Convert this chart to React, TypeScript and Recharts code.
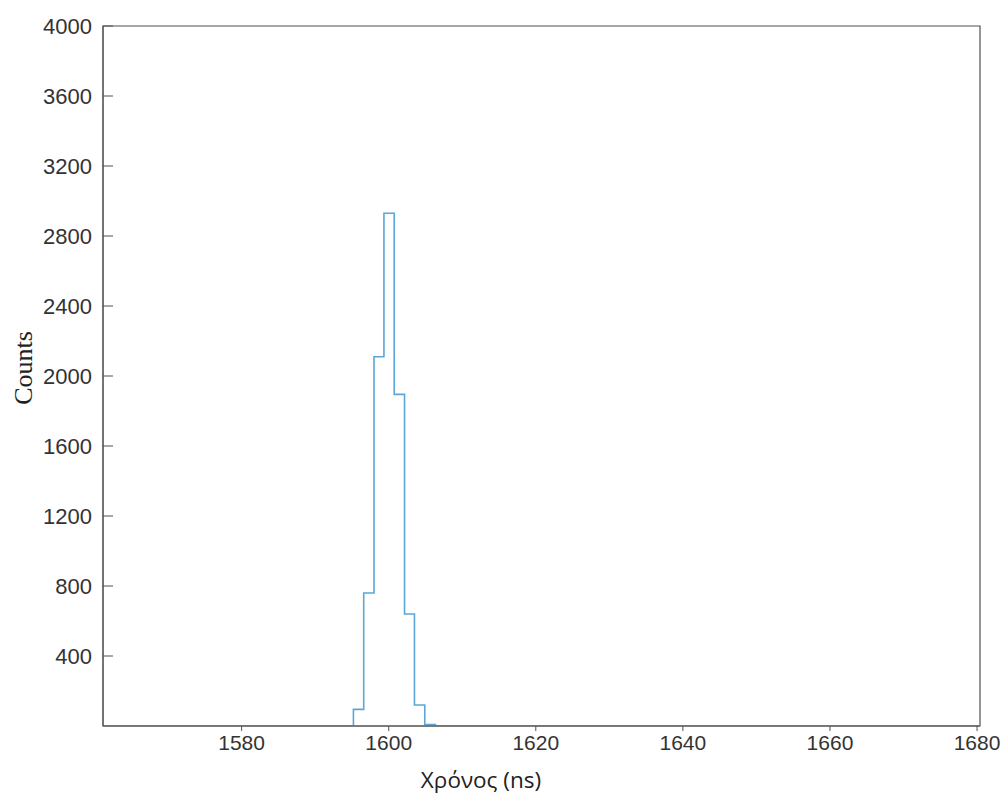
// @ts-nocheck
import { LineChart, Line, XAxis, YAxis, ReferenceArea, Label } from 'recharts'

// bin left edges (ns) and counts
const times = [1561.15, 1595.2, 1596.6, 1598.0, 1599.35, 1600.75, 1602.15, 1603.5, 1604.9, 1606.35, 1680.4]
const counts = [0, 95, 760, 2110, 2930, 1895, 640, 120, 8, 0, 0]

const xTicks = [1580, 1600, 1620, 1640, 1660, 1680]
const yTicks = [400, 800, 1200, 1600, 2000, 2400, 2800, 3200, 3600, 4000]

const xDomain = [1561.15, 1680.4]
const yDomain = [0, 4000]

const data = times.map((t, i) => ({ t, c: counts[i] }))

const axisColor = '#505050'
const textColor = '#333'

// y ticks point inward (into the plot)
const YTick = ({ x, y, payload }) => (
  <g>
    <line x1={x} x2={x + 10} y1={y} y2={y} stroke={axisColor} strokeWidth={1} />
    <text x={x - 11} y={y} textAnchor="end" dominantBaseline="central"
      fontFamily="Arial, 'Liberation Sans', sans-serif" fontSize={22} fill={textColor}>
      {payload.value}
    </text>
  </g>
)

export default function App() {
  return (
    <div style={{ position: 'absolute', left: 0, top: 0, background: '#fff' }}>
      <LineChart width={1005} height={796} data={data}
        margin={{ top: 26, right: 25, bottom: 0, left: 0 }}>
        <ReferenceArea x1={xDomain[0]} x2={xDomain[1]} y1={yDomain[0]} y2={yDomain[1]}
          fill="none" stroke={axisColor} strokeWidth={1.2} />
        <XAxis dataKey="t" type="number" domain={xDomain} ticks={xTicks} allowDataOverflow
          height={70} stroke={axisColor} tickSize={5} tickMargin={4}
          tick={{ fill: textColor, fontSize: 21, fontFamily: "Arial, 'Liberation Sans', sans-serif" }}>
          <Label content={({ viewBox }) => (
            <text x={viewBox.x + 378} y={viewBox.y + 62} textAnchor="middle"
              fontFamily="'Open Sans', 'Noto Sans', sans-serif" fontSize={22.5} fill="#222">
              Χρόνος (ns)
            </text>
          )} />
        </XAxis>
        <YAxis type="number" domain={yDomain} ticks={yTicks} allowDataOverflow
          width={103} stroke={axisColor} tickLine={false} tickSize={0} tickMargin={0}
          tick={<YTick />}>
          <Label content={({ viewBox }) => {
            const cx = viewBox.x + 23
            const cy = viewBox.y + viewBox.height / 2 - 8
            return (
              <text x={cx} y={cy} transform={`rotate(-90 ${cx} ${cy})`} textAnchor="middle"
                dominantBaseline="central" fontFamily="'Liberation Serif', 'DejaVu Serif', serif"
                fontSize={26} fill="#222">
                Counts
              </text>
            )
          }} />
        </YAxis>
        <Line type="stepAfter" dataKey="c" stroke="#5aa7d6" strokeWidth={1.6}
          dot={false} isAnimationActive={false} />
      </LineChart>
    </div>
  )
}
